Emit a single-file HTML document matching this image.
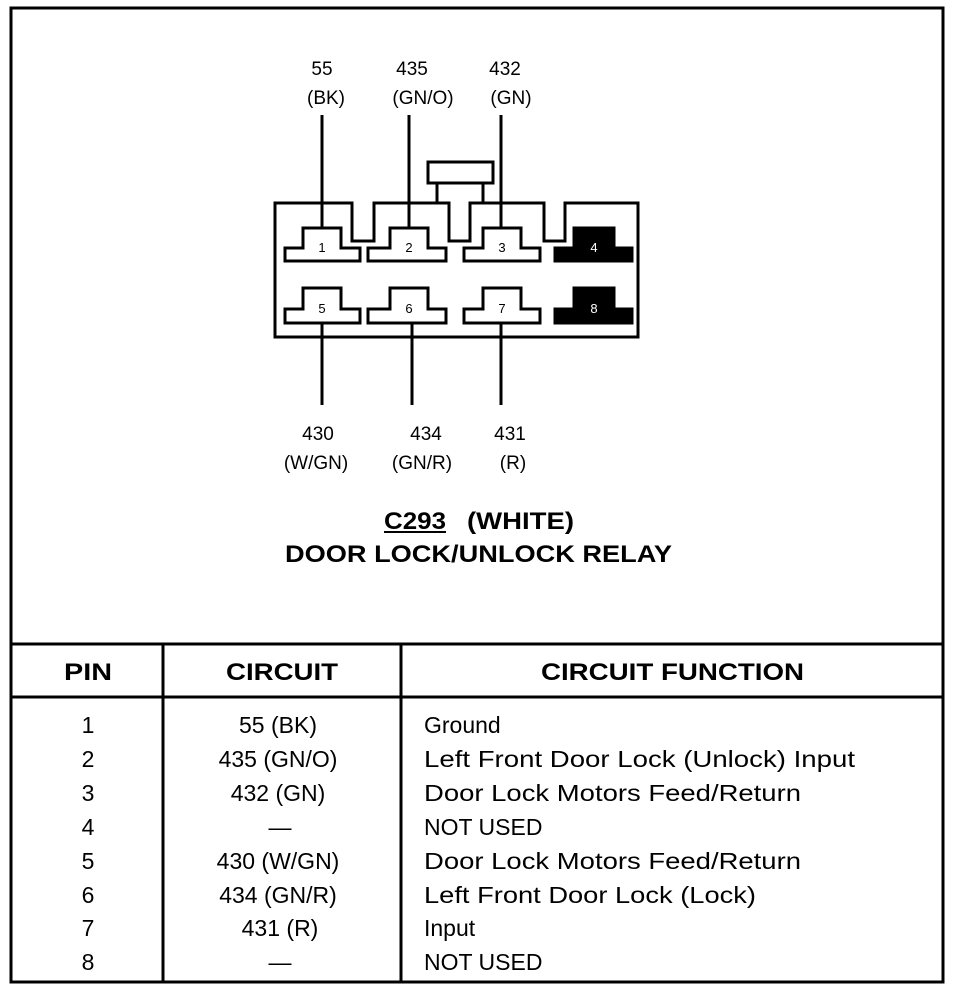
<!DOCTYPE html>
<html><head><style>body{margin:0;background:#fff}svg{display:block}text{font-family:"Liberation Sans",sans-serif;fill:#000}</style></head>
<body>
<svg width="960" height="990" viewBox="0 0 960 990" xmlns="http://www.w3.org/2000/svg">
<g fill="none" stroke="#000" stroke-width="3">
<rect x="11" y="8" width="932" height="974"/>
<line x1="11" y1="644" x2="943" y2="644"/>
<line x1="11" y1="697" x2="943" y2="697"/>
<line x1="163" y1="644" x2="163" y2="982"/>
<line x1="401" y1="644" x2="401" y2="982"/>
<path d="M275 203 H352 V241 H374 V203 H449 V241 H470 V203 H544 V241 H565 V203 H638 V337 H275 Z"/>
<rect x="428" y="162" width="65" height="21"/>
<line x1="437" y1="183" x2="437" y2="203"/>
<line x1="483" y1="183" x2="483" y2="203"/>
<line x1="322" y1="115" x2="322" y2="228"/>
<line x1="409" y1="115" x2="409" y2="228"/>
<line x1="501" y1="115" x2="501" y2="228"/>
<line x1="322" y1="323" x2="322" y2="405"/>
<line x1="412" y1="323" x2="412" y2="405"/>
<line x1="501" y1="323" x2="501" y2="405"/>
</g>
<g stroke="#000" stroke-width="3" fill="#fff">
<path d="M303 228 H341 V248 H360 V261 H285 V248 H303 Z"/>
<path d="M390 228 H428 V248 H446 V261 H368 V248 H390 Z"/>
<path d="M483 228 H521 V248 H540 V261 H464 V248 H483 Z"/>
<path d="M574 228 H614 V248 H632 V261 H555 V248 H574 Z" fill="#000"/>
<path d="M303 288 H341 V309 H360 V323 H285 V309 H303 Z"/>
<path d="M390 288 H428 V309 H446 V323 H368 V309 H390 Z"/>
<path d="M483 288 H521 V309 H540 V323 H464 V309 H483 Z"/>
<path d="M574 288 H614 V309 H632 V323 H555 V309 H574 Z" fill="#000"/>
</g>
<g font-size="13" text-anchor="middle">
<text x="322" y="252">1</text><text x="409" y="252">2</text><text x="502" y="252">3</text><text x="594" y="252" style="fill:#fff">4</text>
<text x="322" y="313">5</text><text x="409" y="313">6</text><text x="502" y="313">7</text><text x="594" y="313" style="fill:#fff">8</text>
</g>
<g font-size="19" text-anchor="middle">
<text x="322" y="75">55</text><text x="326" y="104">(BK)</text>
<text x="412" y="75">435</text><text x="423" y="104">(GN/O)</text>
<text x="505" y="75">432</text><text x="511" y="104">(GN)</text>
<text x="318" y="440">430</text><text x="316" y="469">(W/GN)</text>
<text x="426" y="440">434</text><text x="422" y="469">(GN/R)</text>
<text x="510" y="440">431</text><text x="513" y="469">(R)</text>
</g>
<g font-size="24" font-weight="bold">
<text x="384" y="529" textLength="62" lengthAdjust="spacingAndGlyphs">C293</text>
<text x="467" y="529" textLength="107" lengthAdjust="spacingAndGlyphs">(WHITE)</text>
<text x="285" y="562" textLength="387" lengthAdjust="spacingAndGlyphs">DOOR LOCK/UNLOCK RELAY</text>
<text x="64" y="680" textLength="48" lengthAdjust="spacingAndGlyphs">PIN</text>
<text x="226" y="680" textLength="112" lengthAdjust="spacingAndGlyphs">CIRCUIT</text>
<text x="541" y="680" textLength="263" lengthAdjust="spacingAndGlyphs">CIRCUIT FUNCTION</text>
</g>
<line x1="384" y1="532" x2="446" y2="532" stroke="#000" stroke-width="2"/>
<g font-size="23">
<g text-anchor="middle">
<text x="88" y="733">1</text><text x="88" y="767">2</text><text x="88" y="801">3</text><text x="88" y="835">4</text>
<text x="88" y="869">5</text><text x="88" y="903">6</text><text x="88" y="936">7</text><text x="88" y="970">8</text>
<text x="278" y="733">55 (BK)</text><text x="278" y="767">435 (GN/O)</text><text x="278" y="801">432 (GN)</text><text x="280" y="835">—</text>
<text x="278" y="869">430 (W/GN)</text><text x="278" y="903">434 (GN/R)</text><text x="280" y="936">431 (R)</text><text x="280" y="970">—</text>
</g>
<text x="424" y="733">Ground</text>
<text x="424" y="767" textLength="431" lengthAdjust="spacingAndGlyphs">Left Front Door Lock (Unlock) Input</text>
<text x="424" y="801" textLength="377" lengthAdjust="spacingAndGlyphs">Door Lock Motors Feed/Return</text>
<text x="424" y="835">NOT USED</text>
<text x="424" y="869" textLength="377" lengthAdjust="spacingAndGlyphs">Door Lock Motors Feed/Return</text>
<text x="424" y="903" textLength="332" lengthAdjust="spacingAndGlyphs">Left Front Door Lock (Lock)</text>
<text x="424" y="936">Input</text>
<text x="424" y="970">NOT USED</text>
</g>
</svg>
</body></html>
